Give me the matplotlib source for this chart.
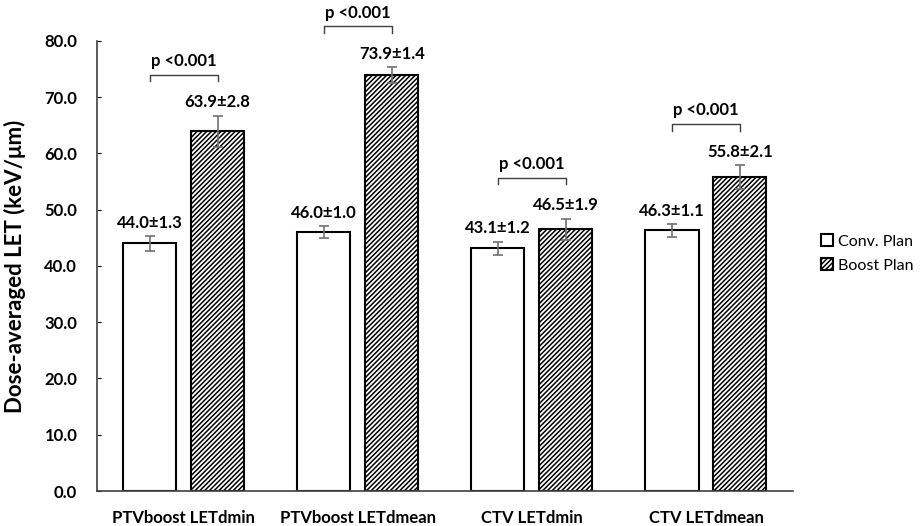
import matplotlib
matplotlib.use('Agg')
import matplotlib.pyplot as plt
import numpy as np

plt.rcParams['font.family'] = ['Lato', 'DejaVu Sans']
plt.rcParams['hatch.linewidth'] = 1.1

# mean ± sd per structure
categories = ['PTVboost LETdmin', 'PTVboost LETdmean', 'CTV LETdmin', 'CTV LETdmean']
conv_mean = [44.0, 46.0, 43.1, 46.3]
conv_sd = [1.3, 1.0, 1.2, 1.1]
boost_mean = [63.9, 73.9, 46.5, 55.8]
boost_sd = [2.8, 1.4, 1.9, 2.1]
p_labels = ['p <0.001', 'p <0.001', 'p <0.001', 'p <0.001']
yticks = [0, 10, 20, 30, 40, 50, 60, 70, 80]

fig = plt.figure(figsize=(9.21, 5.26), dpi=100)
ax = fig.add_axes([0.105, 0.0665, 0.756, 0.856])

x = np.arange(len(categories))
w = 0.305
off = 0.195

ax.bar(x - off, conv_mean, w, color='white', edgecolor='black', linewidth=1.5,
       label='Conv. Plan', zorder=2)
ax.bar(x + off, boost_mean, w, color='white', edgecolor='black', linewidth=1.5,
       hatch='///////', label='Boost Plan', zorder=2)

ax.errorbar(x - off, conv_mean, yerr=conv_sd, fmt='none', ecolor='#707070',
            elinewidth=1.2, capsize=3.5, capthick=1.2, zorder=3)
ax.errorbar(x + off, boost_mean, yerr=boost_sd, fmt='none', ecolor='#707070',
            elinewidth=1.2, capsize=3.5, capthick=1.2, zorder=3)

# value labels above error bars
for xs, m, s in [(x - off, conv_mean, conv_sd), (x + off, boost_mean, boost_sd)]:
    for xi, mi, si in zip(xs, m, s):
        ax.annotate(f'{mi:.1f}\u00b1{si:.1f}', (xi, mi + si), xytext=(0, 4),
                    textcoords='offset points', ha='center', va='bottom',
                    fontsize=12, fontweight='bold')

# significance brackets
for i, p in enumerate(p_labels):
    top = boost_mean[i] + boost_sd[i] + 7.3
    x0, x1 = x[i] - off, x[i] + off
    ax.plot([x0, x0, x1, x1], [top - 1.2, top, top, top - 1.2], color='#404040',
            lw=1.0, clip_on=False)
    ax.text((x0 + x1) / 2, top + 1.0, p, ha='center', va='bottom',
            fontsize=12, fontweight='bold')

ax.set_xlim(-0.5, 3.5)
ax.set_ylim(0, 80)
ax.set_yticks(yticks)
ax.set_yticklabels([f'{v:.1f}' for v in yticks], fontsize=12, fontweight='bold')
ax.set_xticks(x)
ax.set_xticklabels(categories, fontsize=12, fontweight='bold')
ax.tick_params(axis='x', length=0, pad=14)
ax.tick_params(axis='y', direction='in', length=3, pad=14)
ax.set_ylabel('Dose-averaged LET (keV/\u03bcm)', fontsize=16, fontweight='bold', labelpad=13)

for s in ['top', 'right']:
    ax.spines[s].set_visible(False)
for s in ['left', 'bottom']:
    ax.spines[s].set_color('#404040')
    ax.spines[s].set_linewidth(1.2)

leg = fig.legend(loc='center left', bbox_to_anchor=(0.876, 0.518), frameon=False,
                 fontsize=11.5, handlelength=0.75, handleheight=0.75,
                 handletextpad=0.3, labelspacing=0.6)

fig.savefig('out.png', dpi=100)
